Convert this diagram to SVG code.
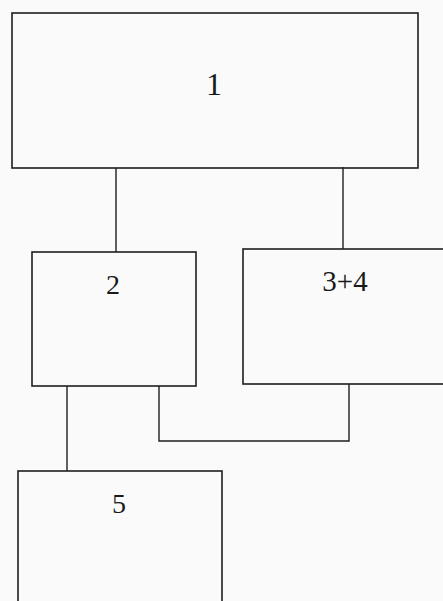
<svg xmlns="http://www.w3.org/2000/svg" width="443" height="601" viewBox="0 0 443 601">
<style>
.box{fill:none;stroke:#1e1e1e;stroke-width:1.6}
.ln{fill:none;stroke:#1e1e1e;stroke-width:1.4}
text{font-family:"Liberation Serif","Times New Roman",serif;fill:#1a1a1a;text-anchor:middle}
</style>
<rect width="443" height="601" fill="#fafafa"/>
<g id="connectors">
<line class="ln" x1="116" y1="168" x2="116" y2="252"/>
<line class="ln" x1="343" y1="167" x2="343" y2="249"/>
<line class="ln" x1="67" y1="386" x2="67" y2="471"/>
<polyline class="ln" points="159,386 159,441 349,441 349,384"/>
</g>
<g id="n1"><rect class="box" x="12" y="13" width="406" height="155"/><text x="214" y="95" font-size="32">1</text></g>
<g id="n2"><rect class="box" x="32" y="252" width="164" height="134"/><text x="113" y="294" font-size="28">2</text></g>
<g id="n34"><rect class="box" x="243" y="249" width="210" height="135"/><text x="345" y="291" font-size="29">3+4</text></g>
<g id="n5"><rect class="box" x="18" y="471" width="204" height="140"/><text x="119" y="513" font-size="28">5</text></g>
</svg>
